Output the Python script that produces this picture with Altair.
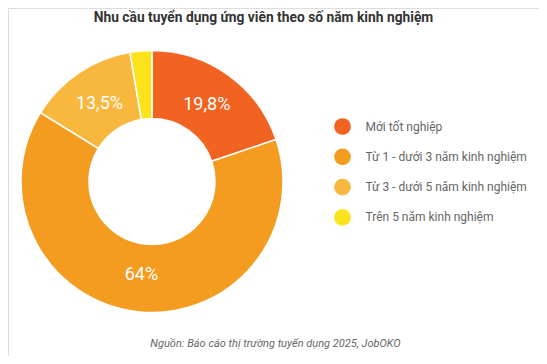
import altair as alt
import pandas as pd

categories = [
    "Mới tốt nghiệp",
    "Từ 1 - dưới 3 năm kinh nghiệm",
    "Từ 3 - dưới 5 năm kinh nghiệm",
    "Trên 5 năm kinh nghiệm",
]
values = [19.8, 64.0, 13.5, 2.7]
labels = ["19,8%", "64%", "13,5%", ""]
colors = ["#F26322", "#F49C1F", "#F8B83E", "#FDE31C"]

title_text = "Nhu cầu tuyển dụng ứng viên theo số năm kinh nghiệm"
source_text = "Nguồn: Báo cáo thị trường tuyển dụng 2025, JobOKO"

df = pd.DataFrame({
    "category": categories,
    "value": values,
    "label": labels,
    "order": list(range(len(categories))),
})

CX, CY = 144, 173.5

base = alt.Chart(df).encode(
    theta=alt.Theta("value:Q", stack=True),
    order=alt.Order("order:Q"),
    x=alt.value(CX),
    y=alt.value(CY),
)

arcs = base.mark_arc(
    outerRadius=131, innerRadius=63, stroke="white", strokeWidth=1.5
).encode(
    color=alt.Color(
        "category:N",
        scale=alt.Scale(domain=categories, range=colors),
        sort=categories,
        legend=alt.Legend(
            orient="none",
            legendX=326,
            legendY=110,
            title=None,
            symbolType="circle",
            symbolSize=280,
            symbolStrokeWidth=0,
            labelFont="Roboto",
            labelFontSize=12,
            labelColor="#666666",
            labelOffset=14.5,
            rowPadding=13.3,
            padding=0,
            labelLimit=300,
        ),
    )
)

texts = base.mark_text(
    radius=94, font="Roboto", fontSize=18, color="white"
).encode(text="label:N")

title_df = pd.DataFrame({"t": [title_text]})
title = alt.Chart(title_df).mark_text(
    font="Roboto", fontSize=13.8, fontWeight="bold", color="#333333",
    align="center", baseline="alphabetic"
).encode(text="t:N", x=alt.value(255.5), y=alt.value(14))

source_df = pd.DataFrame({"s": [source_text]})
source = alt.Chart(source_df).mark_text(
    font="Roboto", fontSize=11, fontStyle="italic", color="#666666",
    align="center", baseline="middle"
).encode(text="s:N", x=alt.value(267.5), y=alt.value(336))

chart = alt.layer(arcs, texts, title, source).properties(
    width=531, height=348, autosize=alt.AutoSizeParams(type="none"), padding=0
).configure_view(stroke=None).configure(background="white")

chart.save("out.html", embed_options={"renderer": "svg", "actions": False})
